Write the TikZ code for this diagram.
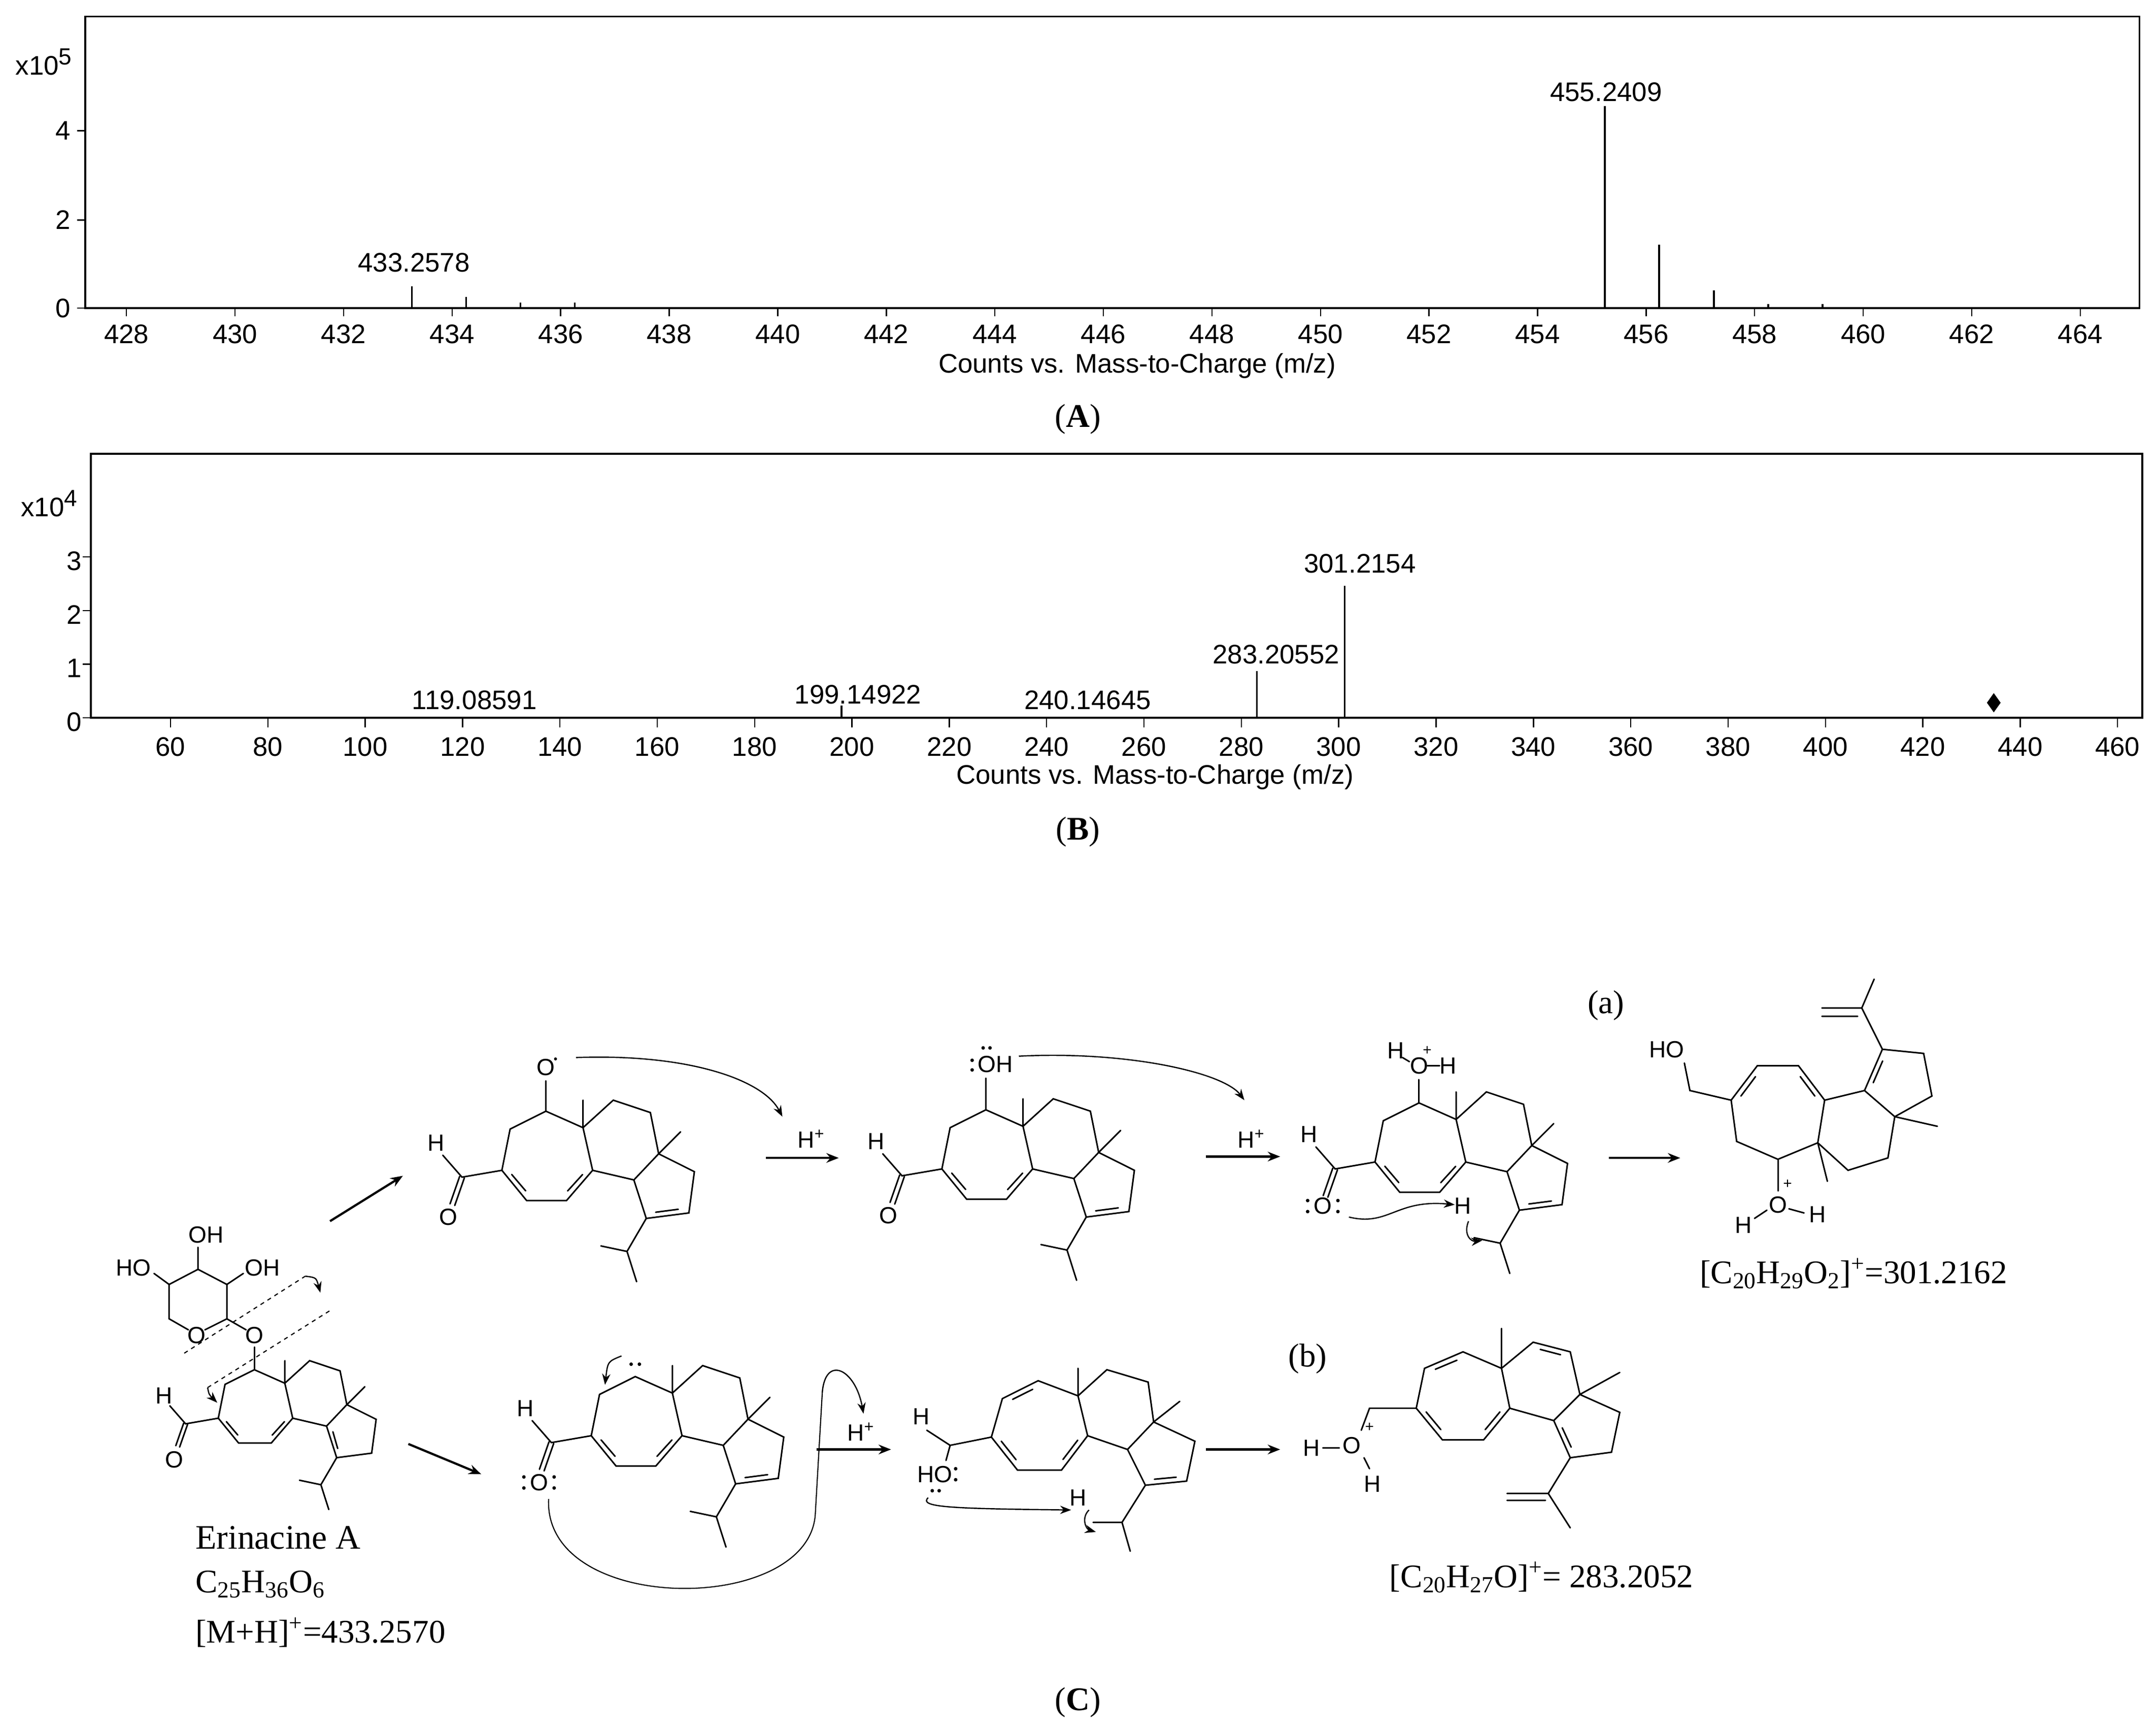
\documentclass[tikz,border=0pt]{standalone}
\usepackage{fontspec}
\setmainfont{Liberation Serif}
\setsansfont{Liberation Sans}
\usetikzlibrary{calc,arrows.meta}
\tikzset{
 bond/.style={line width=1.1bp,line cap=round},
 frame/.style={line width=1.3bp},
 tk/.style={line width=0.9bp},
 arr/.style={line width=1.6bp,-{Stealth[length=9bp,width=7bp]}},
 carr/.style={line width=0.9bp,-{Stealth[length=8bp,width=6bp]}},
 atom/.style={font=\sffamily\fontsize{17bp}{19bp}\selectfont,inner sep=0pt},
 lab/.style={font=\sffamily\fontsize{19.5bp}{22bp}\selectfont,inner sep=0pt},
 ttl/.style={font=\fontsize{24bp}{28bp}\selectfont,inner sep=0pt},
}
\newcommand\dbl[3]{\draw[bond] ($($(#1)!.18!(#2)$)!4bp!(#3)$) -- ($($(#1)!.82!(#2)$)!4bp!(#3)$);}
\newcommand\skelbase{%
 \draw[bond] (0,0)--(-26,13)--(-32,43)--(-14,65)--(15,65)--(34,43)--(27,12)--cycle;
 \draw[bond] (27,12)--(27,-8) (27,12)--(49,-8)--(76,1)--(82,31)--(64,50)--(34,43);
 \draw[bond] (82,31)--(98,15) (82,31)--(108,44)--(104,74)--(73,78)--(64,50);
 \draw[bond] (73,78)--(59,102)--(40,98) (59,102)--(66,124);
 \dbl{-32,43}{-14,65}{0,40}\dbl{15,65}{34,43}{0,40}
 \draw[bond] (-32,43)--(-61,48)--(-75,32);
 \draw[bond] (-59.3,48.6)--(-66.3,68.6) (-62.7,47.4)--(-69.7,67.4);
 \node[atom] at (-80,23) {H};
}
\newcommand\dbFG{\dbl{104,74}{73,78}{86,55}}
\newcommand\dbDG{\dbl{64,50}{73,78}{86,55}}
\newcommand\lp[2]{\fill (#1) circle (1.3bp) (#2) circle (1.3bp);}
\begin{document}
\begin{tikzpicture}[x=1bp,y=-1bp]
\useasboundingbox (0,0) rectangle (1568,1262);
% ================= Panel A
\draw[frame] (62,12) rectangle (1556,224);
\foreach \m in {428,430,...,464}{
  \pgfmathsetmacro\xx{92+(\m-428)*39.47}
  \draw[tk] (\xx,224)--(\xx,230);
  \node[lab] at (\xx,243) {\m};}
\foreach \v/\yy in {0/224,2/160,4/95}{
  \draw[tk] (56,\yy)--(62,\yy); \node[lab] at (46,\yy) {\v};}
\node[lab] at (32,45) {x10\textsuperscript{\fontsize{17bp}{18bp}\selectfont 5}};
\foreach \m/\yy in {433.26/208,434.26/216,435.26/220,436.26/220,455.24/77,456.24/178,457.25/211,458.25/221,459.25/221}{
  \pgfmathsetmacro\xx{92+(\m-428)*39.47}
  \draw[line width=1.2bp] (\xx,224)--(\xx,\yy);}
\node[lab] (pa1) at (301,191) {433.2578};
\node[lab] (pa2) at (1168,67) {455.2409};
\node[lab] (ta) at (827,266) {Counts vs. Mass-to-Charge (m/z)};
\node[ttl] (A) at (784,305) {(\textbf{A})};
% ================= Panel B
\draw[frame] (66,330) rectangle (1558,522);
\foreach \m in {60,80,...,460}{
  \pgfmathsetmacro\xx{124+(\m-60)*3.54}
  \draw[tk] (\xx,522)--(\xx,529);
  \node[lab] at (\xx,543) {\m};}
\foreach \v/\yy in {0/522,1/483,2/444,3/405}{
  \draw[tk] (60,\yy)--(66,\yy); \node[lab] at (54,\yy+3) {\v};}
\node[lab] at (36,366) {x10\textsuperscript{\fontsize{17bp}{18bp}\selectfont 4}};
\draw[line width=1.2bp] (612,522)--(612,513) (914,522)--(914,488) (978,522)--(978,426);
\fill (1450,504)--(1455,511)--(1450,518)--(1445,511)--cycle;
\node[lab] at (345,509) {119.08591};
\node[lab] at (624,505) {199.14922};
\node[lab] at (791,509) {240.14645};
\node[lab] at (928,476) {283.20552};
\node[lab] at (989,410) {301.2154};
\node[lab] (tb) at (840,565) {Counts vs. Mass-to-Charge (m/z)};
\node[ttl] (B) at (784,605) {(\textbf{B})};
% ================= Panel C : Erinacine A
\begin{scope}[shift={(185,996)},scale=0.82]
 \skelbase \dbDG
 \draw[bond] (0,0)--(0,-20);
 \node[atom] at (-71,80) {O};
\end{scope}
\node[atom] (og) at (185,971) {O};
\node[atom] (or) at (143,971) {O};
\draw[bond] (144,923)--(123,934)--(123,959)--(137,967) (149,967)--(165,959)--(165,934)--(144,923);
\draw[bond] (165,959)--(179,967) (144,923)--(144,907) (123,934)--(112,926) (165,934)--(177,926);
\node[atom] at (150,898) {OH};
\node[atom] at (97,922) {HO};
\node[atom] at (191,922) {OH};
\draw[dashed,line width=0.8bp] (134,984)--(222,928) (151,1009)--(240,953);
\draw[carr] (222,928) .. controls (230,929) .. (233,940);
\draw[carr] (151,1009) .. controls (152,1014) .. (158,1020);
\node[font=\fontsize{25bp}{29bp}\selectfont,anchor=west,inner sep=0pt] at (142,1118) {Erinacine A};
\node[font=\fontsize{24bp}{28bp}\selectfont,anchor=west,inner sep=0pt] at (142,1152) {C\textsubscript{25}H\textsubscript{36}O\textsubscript{6}};
\node[font=\fontsize{24bp}{28bp}\selectfont,anchor=west,inner sep=0pt] at (142,1187) {[M+H]\textsuperscript{+}=433.2570};
% ---- top structure 1
\begin{scope}[shift={(397,808)}]
 \skelbase \dbFG
 \draw[bond] (0,0)--(0,-22);
 \node[atom] at (0,-32) {O};
 \fill (7,-38) circle (1.1bp);
 \node[atom] at (-71,77) {O};
\end{scope}
% ---- top structure 2
\begin{scope}[shift={(717,807)}]
 \skelbase \dbFG
 \draw[bond] (0,0)--(0,-23);
 \node[atom,anchor=west] at (-6,-33) {OH};
 \lp{-2,-45}{3,-45}\lp{-10,-36}{-10,-29}
 \node[atom] at (-71,77) {O};
\end{scope}
% ---- top structure 3
\begin{scope}[shift={(1032,802)}]
 \skelbase \dbFG
 \draw[bond] (0,0)--(0,-17);
 \node[atom] at (0,-27) {O};
 \node[atom,font=\sffamily\fontsize{11bp}{12bp}\selectfont] at (6,-38) {+};
 \node[atom] at (-17,-38) {H};
 \node[atom] at (21,-27) {H};
 \draw[bond] (-12,-33)--(-7,-30) (6,-27)--(15,-27);
 \node[atom] at (-70,75) {O};
 \lp{-81,71}{-81,79}\lp{-59,71}{-59,79}
 \node[atom] at (32,75) {H};
\end{scope}
\draw[carr] (981,885) .. controls (1010,892) and (1015,872) .. (1058,876);
\draw[carr] (1068,888) .. controls (1064,898) and (1070,903) .. (1078,902);
% ---- top structure 4
\node[atom] at (1212,763) {HO};
\draw[bond] (1225,773)--(1229,793)--(1259,800);
\draw[bond] (1259,800)--(1278,775)--(1308,775)--(1327,800)--(1322,831)--(1293,843)--(1263,830)--cycle;
\dbl{1259,800}{1278,775}{1293,808}\dbl{1308,775}{1327,800}{1293,808}
\draw[bond] (1322,831)--(1329,859) (1322,831)--(1344,851)--(1373,842)--(1378,812)--(1356,793)--(1327,800);
\draw[bond] (1378,812)--(1409,819) (1378,812)--(1405,797)--(1399,766)--(1369,763)--(1356,793);
\dbl{1369,763}{1356,793}{1381,786}
\draw[bond] (1369,763)--(1354,733)--(1363,712) (1354,733)--(1325,733) (1351,739)--(1325,739);
\draw[bond] (1293,843)--(1293,866);
\node[atom] at (1293,876) {O};
\node[atom,font=\sffamily\fontsize{11bp}{12bp}\selectfont] at (1300,861) {+};
\node[atom] at (1268,891) {H}; \node[atom] at (1322,883) {H};
\draw[bond] (1285,880)--(1276,886) (1301,879)--(1312,882);
\node[font=\fontsize{24bp}{28bp}\selectfont,inner sep=0pt] at (1348,926) {[C\textsubscript{20}H\textsubscript{29}O\textsubscript{2}]\textsuperscript{+}=301.2162};
% ---- bottom structure 2
\begin{scope}[shift={(462,1001)}]
 \skelbase \dbFG
 \node[atom] at (-70,77) {O};
 \lp{-81,73}{-81,81}\lp{-59,73}{-59,81}
 \lp{-3,-9}{3,-9}
\end{scope}
\draw[carr] (452,986) .. controls (442,990) .. (440,1007);
\draw[line width=0.8bp] (399,1090) .. controls (395,1175) and (590,1175) .. (593,1100) -- (598,1013);
\draw[carr] (598,1013) .. controls (600,985) and (622,995) .. (628,1028);
% ---- bottom structure 3
\node[atom] at (670,1030) {H};
\draw[bond] (674,1040)--(691,1051)--(721,1045) (691,1051)--(688,1062);
\node[atom] at (680,1072) {HO}; \lp{695,1068}{695,1076}\lp{678,1084}{683,1084}
\draw[bond] (721,1045)--(729,1017)--(755,1004)--(784,1015)--(791,1044)--(772,1069)--(740,1069)--cycle;
\dbl{729,1017}{755,1004}{756,1038}\dbl{721,1045}{740,1069}{756,1038}\dbl{772,1069}{791,1044}{756,1038}
\draw[bond] (784,1015)--(784,995) (784,1015)--(805,996)--(835,1005)--(839,1034)--(820,1054)--(791,1044);
\draw[bond] (839,1034)--(858,1019) (839,1034)--(869,1048)--(863,1077)--(833,1080)--(820,1054);
\dbl{863,1077}{833,1080}{845,1058}
\draw[bond] (833,1080)--(816,1107)--(795,1107) (816,1107)--(822,1128);
\node[atom] at (784,1089) {H};
\draw[carr] (675,1089) .. controls (668,1096) and (690,1097) .. (779,1098);
\draw[carr] (792,1098) .. controls (786,1104) and (790,1112) .. (797,1114);
% ---- bottom product
\node[atom] at (954,1053) {H};
\draw[bond] (962,1053)--(974,1053);
\node[atom] at (983,1051) {O};
\node[atom,font=\sffamily\fontsize{11bp}{12bp}\selectfont] at (996,1038) {+};
\node[atom] at (998,1079) {H};
\draw[bond] (992,1060)--(996,1068) (990,1040)--(996,1024)--(1030,1024);
\draw[bond] (1030,1024)--(1036,995)--(1064,983)--(1092,995)--(1098,1024)--(1079,1047)--(1049,1047)--cycle;
\dbl{1036,995}{1064,983}{1064,1016}\dbl{1030,1024}{1049,1047}{1064,1016}\dbl{1079,1047}{1098,1024}{1064,1016}
\draw[bond] (1092,995)--(1092,966) (1092,995)--(1115,976)--(1142,983)--(1149,1014)--(1130,1033)--(1098,1024);
\dbl{1115,976}{1142,983}{1122,1005}
\draw[bond] (1149,1014)--(1178,998) (1149,1014)--(1178,1027)--(1172,1056)--(1142,1060)--(1130,1033);
\dbl{1130,1033}{1142,1060}{1155,1040}
\draw[bond] (1142,1060)--(1126,1086)--(1142,1111) (1126,1086)--(1096,1086) (1124,1091)--(1096,1091);
\node[font=\fontsize{24bp}{28bp}\selectfont,inner sep=0pt] at (1121,1147) {[C\textsubscript{20}H\textsubscript{27}O]\textsuperscript{+}= 283.2052};
% ---- arrows and labels
\draw[carr] (419,769) .. controls (500,766) and (555,785) .. (569,812);
\draw[carr] (741,768) .. controls (820,764) and (890,780) .. (905,800);
\draw[arr] (240,888)--(293,855);
\draw[arr] (297,1050)--(350,1072);
\draw[arr] (557,842)--(610,842);
\draw[arr] (877,841)--(931,841);
\draw[arr] (1170,842)--(1222,842);
\draw[arr] (594,1054)--(648,1054);
\draw[arr] (877,1054)--(931,1054);
\node[atom] at (590,828) {H\textsuperscript{+}};
\node[atom] at (910,828) {H\textsuperscript{+}};
\node[atom] at (626,1041) {H\textsuperscript{+}};
\node[ttl] at (1168,731) {(a)};
\node[ttl] at (951,988) {(b)};
\node[ttl] (C) at (784,1238) {(\textbf{C})};
\end{tikzpicture}
\end{document}
